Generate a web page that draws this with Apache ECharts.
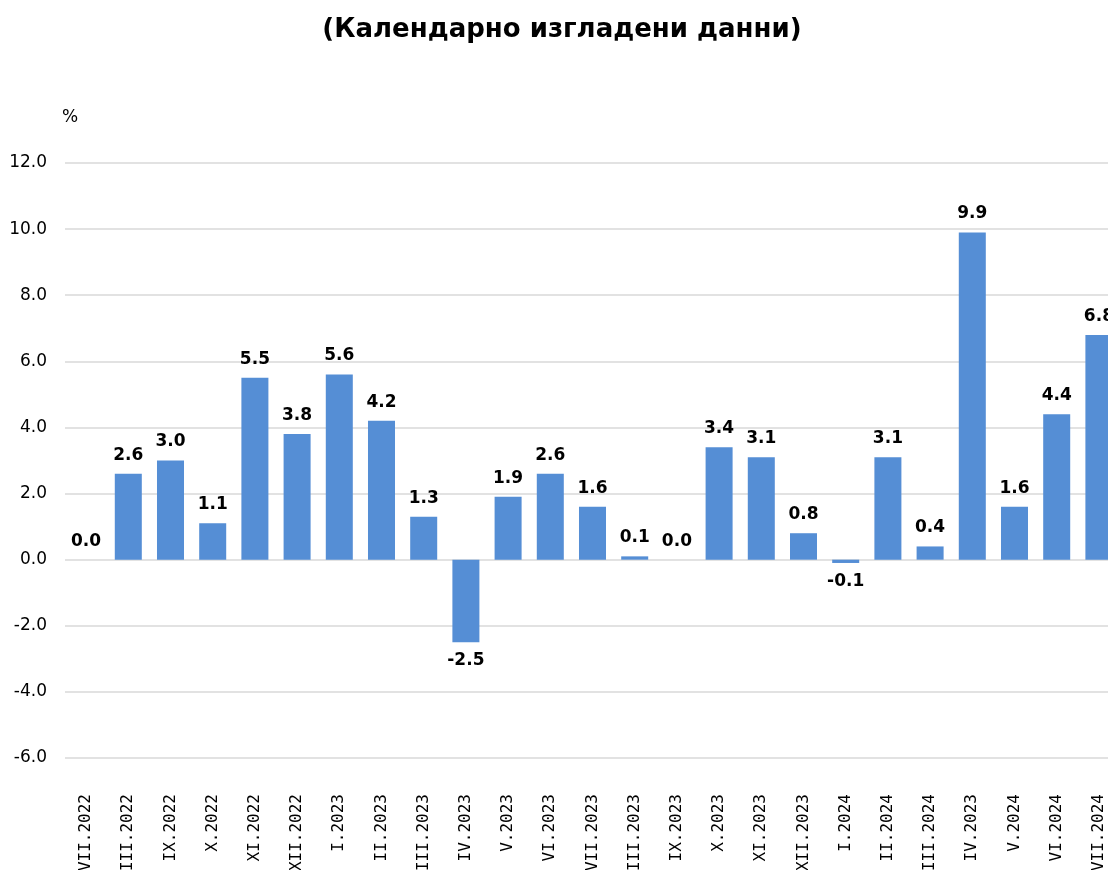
<!DOCTYPE html>
<html>
<head>
<meta charset="utf-8">
<title>Календарно изгладени данни</title>
<script src="https://cdn.jsdelivr.net/npm/echarts@6/dist/echarts.min.js"></script>
<style>
  html, body { margin: 0; padding: 0; background: #fff; overflow: hidden; }
  #main { width: 1120px; height: 870px; }
</style>
</head>
<body>
<div id="main"></div>
<script>
// months (IV.2023 in the 2024 block is as in the source)
var categories = ['VII.2022', 'VIII.2022', 'IX.2022', 'X.2022', 'XI.2022', 'XII.2022',
  'I.2023', 'II.2023', 'III.2023', 'IV.2023', 'V.2023', 'VI.2023', 'VII.2023',
  'VIII.2023', 'IX.2023', 'X.2023', 'XI.2023', 'XII.2023', 'I.2024', 'II.2024',
  'III.2024', 'IV.2023', 'V.2024', 'VI.2024', 'VII.2024'];
var values = [0.0, 2.6, 3.0, 1.1, 5.5, 3.8, 5.6, 4.2, 1.3, -2.5, 1.9, 2.6, 1.6,
  0.1, 0.0, 3.4, 3.1, 0.8, -0.1, 3.1, 0.4, 9.9, 1.6, 4.4, 6.8];
var yTicks = [-6, 12, 2]; // min, max, step

var barData = values.map(function (v) {
  return {
    value: v,
    label: { position: v < 0 ? 'bottom' : 'top' }
  };
});

// chart is a bit wider than the window so the last bar gets cut like the original
var myChart = echarts.init(document.getElementById('main'));
var option = {
  animation: false,
  backgroundColor: '#fff',
  title: {
    text: '(Календарно изгладени данни)',
    left: 557,
    textAlign: 'center',
    top: 12,
    textStyle: { fontFamily: 'DejaVu Sans', fontSize: 26, fontWeight: 'bold', color: '#000' }
  },
  grid: { left: 65, right: 0, top: 163, bottom: 112, containLabel: false, outerBoundsMode: 'none' },
  xAxis: {
    type: 'category',
    data: categories,
    axisLine: { show: false, onZero: false },
    axisTick: { show: false },
    axisLabel: {
      rotate: 90,
      margin: 36,
      interval: 0,
      fontFamily: 'DejaVu Sans Mono',
      fontSize: 16,
      color: '#000'
    }
  },
  yAxis: {
    type: 'value',
    min: yTicks[0],
    max: yTicks[1],
    interval: yTicks[2],
    name: '%',
    nameLocation: 'end',
    nameGap: 37,
    nameTextStyle: { fontFamily: 'DejaVu Sans', fontSize: 17, color: '#000', padding: [0, 0, 0, 10] },
    axisLine: { show: false },
    axisTick: { show: false },
    splitLine: { lineStyle: { color: '#d9d9d9', width: 1.5 } },
    axisLabel: {
      margin: 18,
      fontFamily: 'DejaVu Sans',
      fontSize: 17,
      color: '#000',
      formatter: function (v) { return v.toFixed(1); }
    }
  },
  series: [{
    type: 'bar',
    data: barData,
    barWidth: '64%',
    itemStyle: { color: '#558ed5' },
    label: {
      show: true,
      distance: 10,
      fontFamily: 'DejaVu Sans',
      fontSize: 17,
      fontWeight: 'bold',
      color: '#000',
      formatter: function (p) { return p.value.toFixed(1); }
    }
  }]
};
myChart.setOption(option);
</script>
</body>
</html>
